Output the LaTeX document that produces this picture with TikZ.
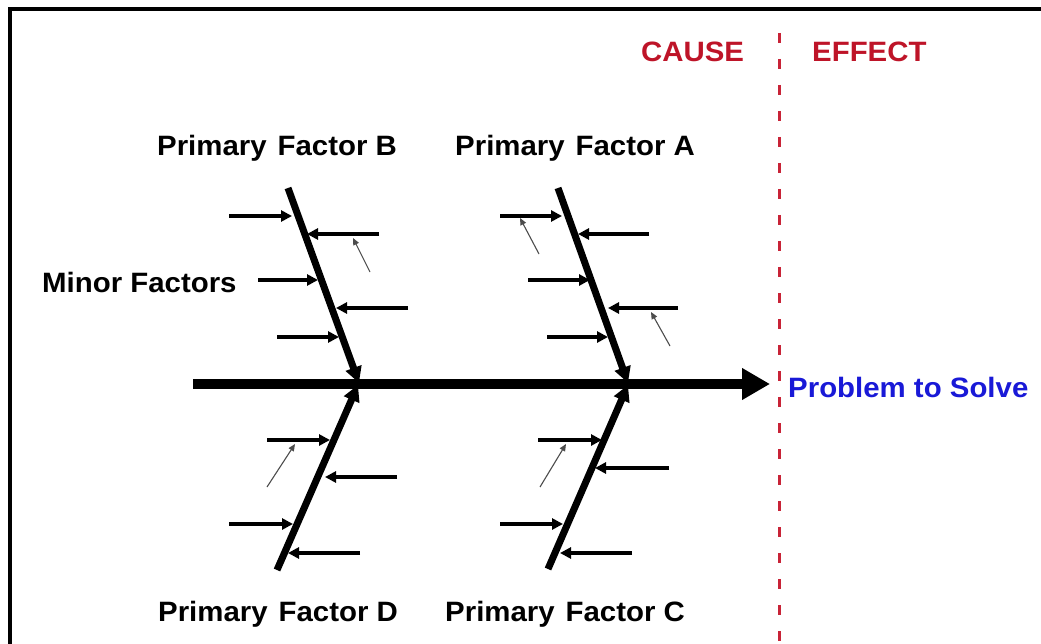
\documentclass[tikz,border=0pt]{standalone}
\usepackage{fontspec}
\setmainfont{Liberation Sans}[FakeStretch=1.05]
\usetikzlibrary{arrows.meta}
\definecolor{causered}{RGB}{190,20,40}
\definecolor{divider}{RGB}{200,35,55}
\definecolor{probblue}{RGB}{25,25,215}
\begin{document}
\begin{tikzpicture}[x=1pt,y=-1pt,
  spine/.style={line width=10pt,-{Triangle[length=28pt,width=30pt]}},
  bone/.style={line width=7pt,-{Triangle[length=16pt,width=16pt]}},
  minor/.style={line width=4pt,-{Triangle[length=11pt,width=11pt]}},
  subarrow/.style={line width=1.1pt,black!70,-{Triangle[length=7pt,width=6pt]}},
  lbl/.style={font=\fontsize{28}{32}\selectfont\bfseries,inner sep=0pt,anchor=base west},
]
\useasboundingbox (0,0) rectangle (1041,644);

% frame (top and left edges)
\coordinate (fbl) at (10,644);
\coordinate (ftl) at (10,9);
\coordinate (ftr) at (1041,9);
\draw[line width=4pt,line join=miter] (fbl) -- (ftl) -- (ftr);

% cause / effect divider
\coordinate (dtop) at (779,33);
\coordinate (dbot) at (779,644);
\draw[divider,line width=3pt,dash pattern=on 10pt off 16pt] (dtop) -- (dbot);

% main spine
\coordinate (tail) at (193,384);
\coordinate (head) at (770,384);
\draw[spine] (tail) -- (head);

% primary bones
\coordinate (bB1) at (288,188); \coordinate (bB2) at (359,383);
\coordinate (bA1) at (558,188); \coordinate (bA2) at (628,383);
\coordinate (bD1) at (277,570); \coordinate (bD2) at (358,385);
\coordinate (bC1) at (548,569); \coordinate (bC2) at (628,385);
\foreach \b in {A,B,C,D} \draw[bone] (b\b1) -- (b\b2);

% minor factor arrows
\foreach \n/\xa/\xb/\y in {
  1/229/292/216, 2/379/307/234, 3/258/318/280, 4/408/336/308, 5/277/339/337,
  6/500/562/216, 7/649/578/234, 8/528/590/280, 9/678/608/308, 10/547/608/337,
  11/267/330/440, 12/397/325/477, 13/229/293/524, 14/360/288/553,
  15/538/602/440, 16/669/595/468, 17/500/563/524, 18/632/560/553}
{
  \coordinate (m\n a) at (\xa,\y);
  \coordinate (m\n b) at (\xb,\y);
  \draw[minor] (m\n a) -- (m\n b);
}

% secondary arrows
\foreach \n/\xa/\ya/\xb/\yb in {
  1/370/272/353/238, 2/539/254/520/218, 3/670/346/651/312,
  4/267/487/295/444, 5/540/487/566/444}
{
  \coordinate (s\n a) at (\xa,\ya);
  \coordinate (s\n b) at (\xb,\yb);
  \draw[subarrow] (s\n a) -- (s\n b);
}

% labels
\node[lbl] (pfB) at (157,156) {Primary\hspace{0.1em} Factor B};
\node[lbl] (pfA) at (455,156) {Primary\hspace{0.1em} Factor A};
\node[lbl] (pfD) at (158,621) {Primary\hspace{0.1em} Factor D};
\node[lbl] (pfC) at (445,621) {Primary\hspace{0.1em} Factor C};
\node[lbl] (minor) at (42,293) {Minor Factors};
\node[lbl,causered] (cause) at (641,62) {CAUSE};
\node[lbl,causered] (effect) at (812,62) {EFFECT};
\node[lbl,probblue] (problem) at (788,397) {Problem to Solve};
\end{tikzpicture}
\end{document}
